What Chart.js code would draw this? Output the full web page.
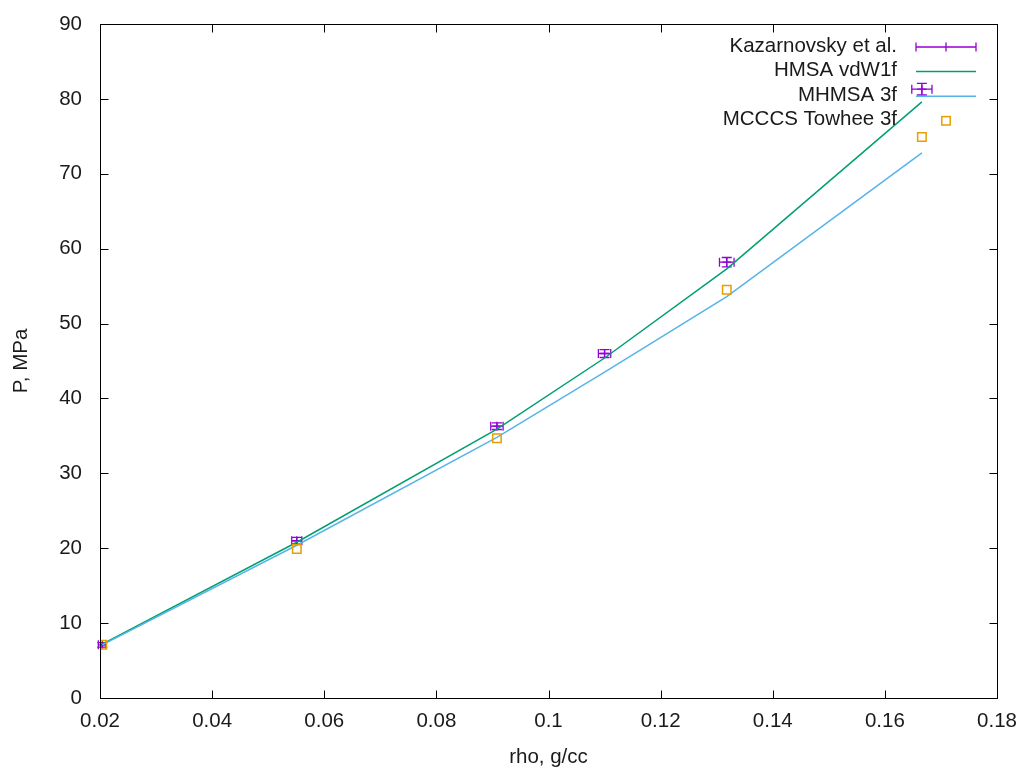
<!DOCTYPE html>
<html><head><meta charset="utf-8">
<script src="https://cdn.jsdelivr.net/npm/chart.js@4/dist/chart.umd.min.js"></script>
<style>html,body{margin:0;padding:0;background:#fff}#wrap{width:1023px;height:770px}</style>
</head><body><div id="wrap"><canvas id="c" width="1023" height="770"></canvas></div>
<script>
// ---- data ----
const rho        = [0.0204, 0.0551, 0.0908, 0.110, 0.1318, 0.1666];
const kazP       = [7.1, 21.0, 36.3, 46.0, 58.2, 81.3];
const kazErrRho  = [0.0007, 0.0009, 0.0011, 0.0011, 0.0013, 0.0018];
const kazErrP    = [0.3, 0.45, 0.45, 0.53, 0.62, 0.78];
const hmsaP      = [7.2, 20.8, 35.9, 45.4, 57.3, 79.6];
const mhmsaP     = [7.1, 20.4, 34.8, 43.5, 53.6, 72.8];
const towheeRho  = [0.0204, 0.0551, 0.0908, 0.1318, 0.1666];
const towheeP    = [7.1, 19.9, 34.7, 54.5, 74.9];
const xTicks     = [0.02, 0.04, 0.06, 0.08, 0.1, 0.12, 0.14, 0.16, 0.18];
const yTicks     = [0, 10, 20, 30, 40, 50, 60, 70, 80, 90];
const seriesNames = ['Kazarnovsky et al.', 'HMSA vdW1f', 'MHMSA 3f', 'MCCCS Towhee 3f'];
const xTitle = 'rho, g/cc';
const yTitle = 'P, MPa';

const PURPLE = '#9400d3', GREEN = '#009e73', BLUE = '#56b4e9', ORANGE = '#e69f00';
const FONT = '"Liberation Sans", Arial, sans-serif';
const TXT = '#1a1a1a';
const FS = 20.5;

const pts = (xs, ys) => xs.map((x, i) => ({x: x, y: ys[i]}));

const framePlugin = {
  id: 'frame',
  afterDatasetDraw(chart, args) {
    if (args.index !== 0) return;
    const ctx = chart.ctx, xs = chart.scales.x, ys = chart.scales.y;
    ctx.save();
    ctx.strokeStyle = PURPLE; ctx.lineWidth = 1.3;
    rho.forEach((r, i) => {
      const px = xs.getPixelForValue(r), py = ys.getPixelForValue(kazP[i]);
      const x1 = xs.getPixelForValue(r - kazErrRho[i]), x2 = xs.getPixelForValue(r + kazErrRho[i]);
      const y1 = ys.getPixelForValue(kazP[i] - kazErrP[i]), y2 = ys.getPixelForValue(kazP[i] + kazErrP[i]);
      ctx.beginPath();
      ctx.moveTo(x1, py); ctx.lineTo(x2, py);
      ctx.moveTo(x1, py - 4.5); ctx.lineTo(x1, py + 4.5);
      ctx.moveTo(x2, py - 4.5); ctx.lineTo(x2, py + 4.5);
      ctx.moveTo(px, y1); ctx.lineTo(px, y2);
      ctx.moveTo(px - 5, y1); ctx.lineTo(px + 5, y1);
      ctx.moveTo(px - 5, y2); ctx.lineTo(px + 5, y2);
      ctx.stroke();
    });
    ctx.restore();
  },
  afterDraw(chart) {
    const ctx = chart.ctx, a = chart.chartArea, xs = chart.scales.x, ys = chart.scales.y;
    ctx.save();
    ctx.strokeStyle = '#000'; ctx.lineWidth = 1;
    const L = Math.round(a.left) + 0.5, R = Math.round(a.right) + 0.5;
    const T = Math.round(a.top) + 0.5, B = Math.round(a.bottom) + 0.5;
    ctx.strokeRect(L, T, R - L, B - T);
    ctx.beginPath();
    xTicks.forEach(v => {
      const p = Math.round(xs.getPixelForValue(v)) + 0.5;
      ctx.moveTo(p, B); ctx.lineTo(p, B - 8);
      ctx.moveTo(p, T); ctx.lineTo(p, T + 8);
    });
    yTicks.forEach(v => {
      const p = Math.round(ys.getPixelForValue(v)) + 0.5;
      ctx.moveTo(L, p); ctx.lineTo(L + 8, p);
      ctx.moveTo(R, p); ctx.lineTo(R - 8, p);
    });
    ctx.stroke();
    // legend
    const tx = 897, sx1 = 916, sx2 = 976, sxm = (sx1 + sx2) / 2, y0 = 46, dy = 24.6;
    ctx.font = FS + 'px ' + FONT; ctx.fillStyle = TXT;
    ctx.textAlign = 'right'; ctx.textBaseline = 'middle';
    seriesNames.forEach((n, i) => ctx.fillText(n, tx, y0 + i * dy));
    let y = y0 + 1;
    ctx.strokeStyle = PURPLE; ctx.lineWidth = 1.3;
    ctx.beginPath();
    ctx.moveTo(sx1, y); ctx.lineTo(sx2, y);
    ctx.moveTo(sx1, y - 4.5); ctx.lineTo(sx1, y + 4.5);
    ctx.moveTo(sx2, y - 4.5); ctx.lineTo(sx2, y + 4.5);
    ctx.moveTo(sxm, y - 4.5); ctx.lineTo(sxm, y + 4.5);
    ctx.stroke();
    y = y0 + dy + 1;
    ctx.strokeStyle = GREEN; ctx.lineWidth = 1.5;
    ctx.beginPath(); ctx.moveTo(sx1, y); ctx.lineTo(sx2, y); ctx.stroke();
    y = y0 + 2 * dy + 1;
    ctx.strokeStyle = BLUE;
    ctx.beginPath(); ctx.moveTo(sx1, y); ctx.lineTo(sx2, y); ctx.stroke();
    y = y0 + 3 * dy + 1;
    ctx.strokeStyle = ORANGE; ctx.lineWidth = 1.5;
    ctx.strokeRect(sxm - 4.2, y - 4.2, 8.4, 8.4);
    ctx.restore();
  }
};

new Chart(document.getElementById('c'), {
  type: 'scatter',
  data: {
    datasets: [
      { label: seriesNames[0], data: pts(rho, kazP), showLine: false, pointStyle: 'cross',
        pointRadius: 4.5, borderColor: PURPLE, backgroundColor: PURPLE, borderWidth: 1.3, order: 4 },
      { label: seriesNames[1], data: pts(rho, hmsaP), showLine: true, pointRadius: 0,
        borderColor: GREEN, borderWidth: 1.5, tension: 0, order: 3 },
      { label: seriesNames[2], data: pts(rho, mhmsaP), showLine: true, pointRadius: 0,
        borderColor: BLUE, borderWidth: 1.5, tension: 0, order: 2 },
      { label: seriesNames[3], data: pts(towheeRho, towheeP), showLine: false, pointStyle: 'rect',
        pointRadius: 6, borderColor: ORANGE, backgroundColor: 'rgba(0,0,0,0)', borderWidth: 1.5, order: 1 }
    ]
  },
  options: {
    responsive: false, animation: false,
    layout: { padding: { left: 0, right: 26, top: 24, bottom: 0 } },
    plugins: { legend: { display: false }, tooltip: { enabled: false } },
    scales: {
      x: {
        type: 'linear', min: 0.02, max: 0.18,
        afterBuildTicks: s => { s.ticks = xTicks.map(v => ({value: v})); },
        afterFit: s => { s.height = 72; s.paddingLeft = 0; s.paddingRight = 0; },
        grid: { display: false, drawTicks: false }, border: { display: false },
        ticks: { padding: 11, color: TXT, font: { family: FONT, size: FS },
          callback: v => String(Number(v.toFixed(2))) },
        title: { display: true, text: xTitle, color: TXT, font: { family: FONT, size: FS }, padding: { top: 0, bottom: 0 } }
      },
      y: {
        type: 'linear', min: 0, max: 90,
        afterBuildTicks: s => { s.ticks = yTicks.map(v => ({value: v})); },
        afterFit: s => { s.width = 100; s.paddingTop = 0; s.paddingBottom = 0; },
        grid: { display: false, drawTicks: false }, border: { display: false },
        ticks: { padding: 18, color: TXT, font: { family: FONT, size: FS },
          callback: v => String(v) },
        title: { display: true, text: yTitle, color: TXT, font: { family: FONT, size: FS }, padding: { top: 9, bottom: 0 } }
      }
    }
  },
  plugins: [framePlugin]
});
</script></body></html>
